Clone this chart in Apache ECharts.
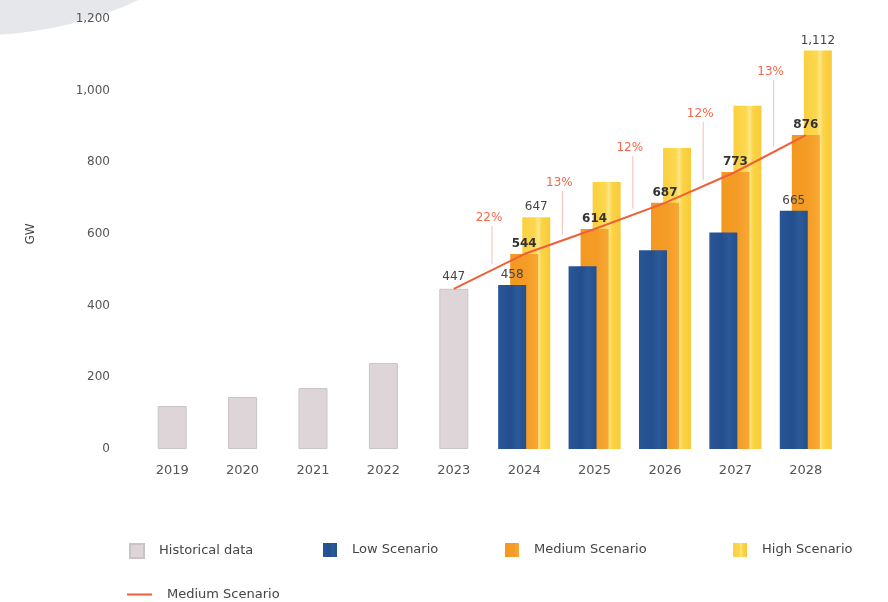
<!DOCTYPE html>
<html>
<head>
<meta charset="utf-8">
<title>Global solar PV market scenarios</title>
<script src="https://cdn.jsdelivr.net/npm/echarts@6/dist/echarts.min.js"></script>
<style>
  html, body { margin: 0; padding: 0; background: #ffffff; }
  #chart { width: 888px; height: 602px; }
</style>
</head>
<body>
<div id="chart"></div>
<script>
// Annual installed capacity, GW
const years = ['2019', '2020', '2021', '2022', '2023', '2024', '2025', '2026', '2027', '2028'];
const historical = [120, 145, 170, 240, 447, null, null, null, null, null];
const lowScenario = [null, null, null, null, null, 458, 510, 555, 604, 665];
const mediumScenario = [null, null, null, null, null, 544, 614, 687, 773, 876];
const highScenario = [null, null, null, null, null, 647, 745, 840, 958, 1112];
const mediumTrend = [null, null, null, null, 447, 544, 614, 687, 773, 876];

// Year-on-year growth of the medium scenario
const growthLabels = ['22%', '13%', '12%', '12%', '13%'];
const growthAnchors = [644, 742, 840, 935, 1052];

const yTicks = [0, 200, 400, 600, 800, 1000, 1200];

// Years whose value is printed above the bar
const labelledHistorical = ['2023'];
const labelledLow = ['2024', '2028'];
const labelledMedium = ['2024', '2025', '2026', '2027', '2028'];
const labelledHigh = ['2024', '2028'];

const FONT = 'DejaVu Sans';
const fmt = v => Number(v).toLocaleString('en-US');

function withLabels(values, shown) {
  return values.map((v, i) => ({ value: v, label: { show: v != null && shown.includes(years[i]) } }));
}

function hGrad(stops) {
  return { type: 'linear', x: 0, y: 0, x2: 1, y2: 0,
    colorStops: stops.map(([offset, color]) => ({ offset, color })) };
}

const valueLabel = {
  position: 'top', distance: 4, color: '#444', fontFamily: FONT, fontSize: 12,
  formatter: p => fmt(p.value)
};

// Growth annotations sit between consecutive years; their leader lines drop to the trend line
const growthData = growthLabels.map((_, k) => {
  const i = 4 + k;
  return [i + 0.5, growthAnchors[k], (mediumTrend[i] + mediumTrend[i + 1]) / 2 + 20];
});

const chart = echarts.init(document.getElementById('chart'), null, { renderer: 'canvas' });

const legendBase = {
  orient: 'horizontal', itemWidth: 14, itemHeight: 14, itemGap: 0, icon: 'rect',
  textStyle: { fontFamily: FONT, fontSize: 13, color: '#444', padding: [0, 0, 0, 10] },
  formatter: n => n === 'Medium Scenario trend' ? 'Medium Scenario' : n,
  selectedMode: false
};

chart.setOption({
  animation: false,
  backgroundColor: '#ffffff',
  graphic: [{
    type: 'circle', z: -10, silent: true,
    shape: { cx: -20, cy: -341, r: 376 },
    style: { fill: '#e5e7eb' }
  }],
  grid: { left: 137, right: 47, top: 19, bottom: 153 },
  legend: [
    Object.assign({}, legendBase, { left: 124, top: 538, data: ['Historical data'] }),
    Object.assign({}, legendBase, { left: 318, top: 538, data: ['Low Scenario'] }),
    Object.assign({}, legendBase, { left: 500, top: 538, data: ['Medium Scenario'] }),
    Object.assign({}, legendBase, { left: 728, top: 538, data: ['High Scenario'] }),
    Object.assign({}, legendBase, { left: 122, top: 583, itemWidth: 25, itemHeight: 14,
      data: [{ name: 'Medium Scenario trend', icon: 'path://M0,6 L25,6 L25,8 L0,8 Z' }] })
  ],
  xAxis: [
    {
      type: 'category', data: years, gridIndex: 0,
      axisLine: { show: false }, axisTick: { show: false },
      axisLabel: { color: '#555', fontFamily: FONT, fontSize: 13, margin: 15 }
    },
    { type: 'category', data: years, show: false },
    { type: 'value', min: -0.5, max: 9.5, show: false }
  ],
  yAxis: {
    type: 'value', min: yTicks[0], max: yTicks[yTicks.length - 1], interval: 200,
    name: 'GW', nameLocation: 'middle', nameRotate: 90, nameGap: 100,
    nameTextStyle: { color: '#444', fontFamily: FONT, fontSize: 12 },
    axisLine: { show: false }, axisTick: { show: false }, splitLine: { show: false },
    axisLabel: { color: '#555', fontFamily: FONT, fontSize: 12, margin: 27, formatter: fmt }
  },
  series: [
    {
      name: 'Historical data', type: 'bar', xAxisIndex: 1, barWidth: 29, z: 2,
      data: withLabels(historical, labelledHistorical),
      itemStyle: { color: '#ddd5d8', borderColor: '#c9c5c7', borderWidth: 1 },
      label: Object.assign({}, valueLabel, { distance: 6 })
    },
    {
      name: 'Low Scenario', type: 'bar', xAxisIndex: 0, barWidth: 28, barGap: '-57%', z: 5,
      data: withLabels(lowScenario, labelledLow),
      itemStyle: { color: hGrad([[0, '#2a5597'], [0.45, '#234f8e'], [0.7, '#2c5999'], [1, '#244f8d']]) },
      label: valueLabel
    },
    {
      name: 'Medium Scenario', type: 'bar', xAxisIndex: 0, barWidth: 28, barGap: '-57%', z: 4,
      data: withLabels(mediumScenario, labelledMedium),
      itemStyle: { color: hGrad([[0, '#f39821'], [0.6, '#f49d26'], [1, '#f7a935']]) },
      label: Object.assign({}, valueLabel, { color: '#333', fontWeight: 'bold' })
    },
    {
      name: 'High Scenario', type: 'bar', xAxisIndex: 0, barWidth: 28, barGap: '-57%', z: 3,
      data: withLabels(highScenario, labelledHigh),
      itemStyle: { color: hGrad([[0, '#fbcf3f'], [0.45, '#fcd84f'], [0.58, '#fde687'], [0.7, '#fbd445'], [1, '#f9ca3a']]) },
      label: valueLabel
    },
    {
      name: 'Medium Scenario trend', type: 'line', xAxisIndex: 0, z: 8,
      data: mediumTrend, showSymbol: false, symbol: 'none', connectNulls: false,
      lineStyle: { color: '#ef5f3b', width: 2 }, itemStyle: { color: '#ef5f3b' }
    },
    {
      name: 'growth', type: 'custom', xAxisIndex: 2, z: 9, silent: true,
      data: growthData,
      renderItem: (params, api) => {
        const x = api.value(0);
        const top = api.coord([x, api.value(1)]);
        const bottom = api.coord([x, api.value(2)]);
        return {
          type: 'group',
          children: [
            { type: 'line',
              shape: { x1: top[0] + 3, y1: top[1] + 8, x2: top[0] + 3, y2: bottom[1] },
              style: { stroke: '#f7c0b0', lineWidth: 1 } },
            { type: 'text', x: top[0], y: top[1],
              style: { text: growthLabels[params.dataIndex], fill: '#f2684a',
                font: '12px "' + FONT + '"', align: 'center', verticalAlign: 'middle',
                textAlign: 'center', textVerticalAlign: 'middle' } }
          ]
        };
      }
    }
  ]
});
</script>
</body>
</html>
